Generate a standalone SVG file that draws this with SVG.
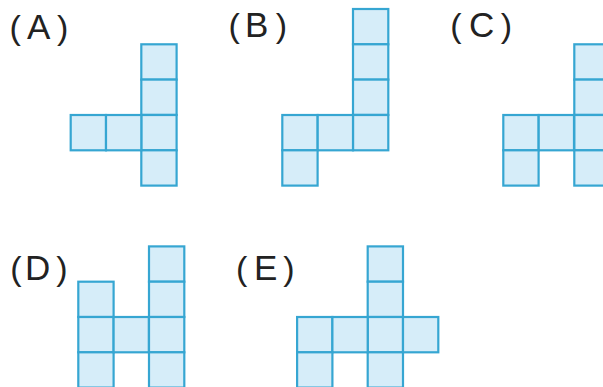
<svg xmlns="http://www.w3.org/2000/svg" width="603" height="387" viewBox="0 0 603 387">
<style>
.c{fill:#d6edf9;stroke:#36a6d2;stroke-width:2.2}
.t{font-family:"Liberation Sans",Arial,sans-serif;font-size:34px;fill:#222}
.l{font-size:35px}
</style>
<defs><rect id="sq" width="35.3" height="35.3" class="c"/></defs>
<rect width="603" height="387" fill="#fff"/>
<g id="A">
<text class="t" y="39"><tspan x="9.6">(</tspan><tspan class="l" x="27">A</tspan><tspan x="57">)</tspan></text>
<use href="#sq" x="141.3" y="44.3"/><use href="#sq" x="141.3" y="79.6"/><use href="#sq" x="141.3" y="115"/><use href="#sq" x="141.3" y="150.3"/><use href="#sq" x="70.7" y="115"/><use href="#sq" x="106" y="115"/>
</g>
<g id="B">
<text class="t" y="37"><tspan x="228.6">(</tspan><tspan class="l" x="245">B</tspan><tspan x="275.7">)</tspan></text>
<use href="#sq" x="353" y="9"/><use href="#sq" x="353" y="44.3"/><use href="#sq" x="353" y="79.6"/><use href="#sq" x="353" y="115"/><use href="#sq" x="282.3" y="115"/><use href="#sq" x="317.7" y="115"/><use href="#sq" x="282.3" y="150.3"/>
</g>
<g id="C">
<text class="t" y="37"><tspan x="450.3">(</tspan><tspan class="l" x="469">C</tspan><tspan x="500.7">)</tspan></text>
<use href="#sq" x="574.3" y="44.3"/><use href="#sq" x="574.3" y="79.6"/><use href="#sq" x="574.3" y="115"/><use href="#sq" x="574.3" y="150.3"/><use href="#sq" x="503.3" y="115"/><use href="#sq" x="538.7" y="115"/><use href="#sq" x="503.3" y="150.3"/>
</g>
<g id="D">
<text class="t" y="280"><tspan x="10.3">(</tspan><tspan class="l" x="25">D</tspan><tspan x="56.3">)</tspan></text>
<use href="#sq" x="78.3" y="281.7"/><use href="#sq" x="78.3" y="317"/><use href="#sq" x="78.3" y="352.3"/><use href="#sq" x="113.6" y="317"/><use href="#sq" x="149" y="246.4"/><use href="#sq" x="149" y="281.7"/><use href="#sq" x="149" y="317"/><use href="#sq" x="149" y="352.3"/>
</g>
<g id="E">
<text class="t" y="280"><tspan x="236">(</tspan><tspan class="l" x="254">E</tspan><tspan x="283.3">)</tspan></text>
<use href="#sq" x="367.7" y="246.4"/><use href="#sq" x="367.7" y="281.7"/><use href="#sq" x="367.7" y="317"/><use href="#sq" x="367.7" y="352.3"/><use href="#sq" x="297.1" y="317"/><use href="#sq" x="332.4" y="317"/><use href="#sq" x="403" y="317"/><use href="#sq" x="297.1" y="352.3"/>
</g>
<g id="connectors"/>
</svg>
